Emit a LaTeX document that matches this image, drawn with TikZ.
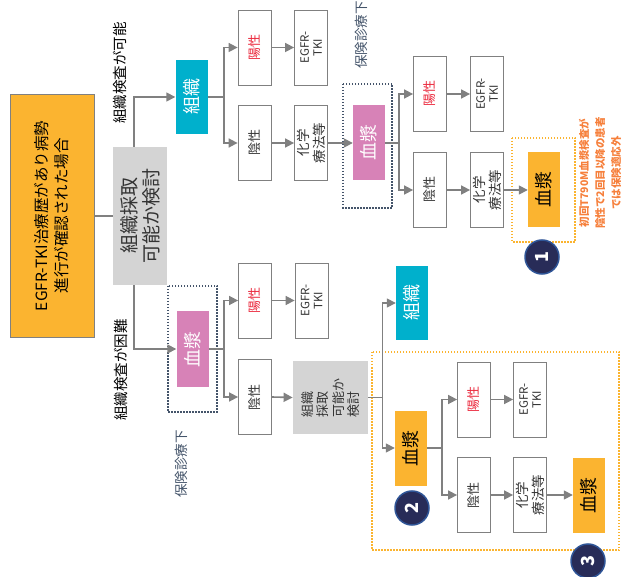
\documentclass[tikz,border=0pt]{standalone}
\usepackage{fontspec}
\setmainfont{Noto Sans CJK JP}
\usetikzlibrary{arrows.meta}

\definecolor{tkiorange}{RGB}{251,180,48}
\definecolor{tisscyan}{RGB}{0,176,204}
\definecolor{plasmapink}{RGB}{215,130,183}
\definecolor{linegray}{RGB}{128,128,128}
\definecolor{fillgray}{RGB}{212,212,212}
\definecolor{posred}{RGB}{235,40,60}
\definecolor{framenavy}{RGB}{68,84,106}
\definecolor{noteorange}{RGB}{246,128,60}
\definecolor{circnavy}{RGB}{40,44,88}
\definecolor{circblue}{RGB}{47,85,151}

\tikzset{
  arr/.style={draw=linegray, line width=1.6pt, -{Triangle[length=9pt,width=9pt]}},
  conn/.style={draw=linegray, line width=1.6pt},
  box/.style={rotate=90, draw=linegray, fill=white, line width=0.8pt,
    minimum width=75pt, minimum height=33pt, inner sep=1pt, align=center,
    text=black!80, font=\fontsize{13}{15}\selectfont},
  posbox/.style={box, text=posred},
  egfrbox/.style={box, font=\fontsize{11.5}{13}\selectfont},
  chembox/.style={box, font=\fontsize{13.5}{16}\selectfont},
  tissue/.style={rotate=90, fill=tisscyan, text=white, minimum width=74pt,
    minimum height=32pt, inner sep=1pt, font=\fontsize{18}{20}\selectfont},
  plasma/.style={rotate=90, fill=plasmapink, text=white, minimum width=75pt,
    minimum height=32pt, inner sep=1pt, font=\fontsize{18}{20}\selectfont},
  plasmaor/.style={plasma, fill=tkiorange, text=black},
  navyframe/.style={draw=framenavy, line width=1.5pt, dash pattern=on 1.5pt off 1.5pt},
  orframe/.style={draw=tkiorange, line width=1.5pt, dash pattern=on 1.5pt off 1.5pt},
  num/.style={circle, rotate=90, fill=circnavy, draw=circblue, line width=1.5pt,
    minimum size=34pt, inner sep=0pt, text=white, font=\fontsize{18}{18}\bfseries},
  lbl/.style={rotate=90, inner sep=0pt, font=\fontsize{14.5}{16}\selectfont},
}

\begin{document}
\begin{tikzpicture}[x=1pt,y=-1pt]
  \useasboundingbox (0,0) rectangle (624,577);

  % Dotted frames
  \draw[navyframe] (343,84) rectangle (392,208);
  \draw[navyframe] (168,286) rectangle (217,412);
  \draw[orframe] (512,138) rectangle (575,242);
  \draw[orframe] (372,352) rectangle (619,550);

  % Start and first decision
  \node[rotate=90, draw=linegray, fill=tkiorange, line width=0.8pt, minimum width=243pt,
    minimum height=84pt, align=center, font=\fontsize{15.5}{20}\selectfont]
    (start) at (52,216) {EGFR-TKI治療歴があり病勢\\進行が確認された場合};
  \node[rotate=90, fill=fillgray, minimum width=138pt, minimum height=54pt, align=center,
    text=black!80, font=\fontsize{19}{22}\selectfont]
    (ask) at (140,216) {組織採取\\可能か検討};
  \coordinate (g1) at (134,0);
  \node[lbl] (lblok) at (120,73) {組織検査が可能};
  \node[lbl] (lblng) at (121,370) {組織検査が困難};

  % Upper branch: tissue
  \node[tissue] (tis1) at (191.5,97) {組織};
  \node[posbox] (pos1) at (254.5,47.5) {陽性};
  \node[box] (neg1) at (254.5,143) {陰性};
  \node[egfrbox] (egfr1) at (311,47.5) {EGFR-\\TKI};
  \node[chembox] (chem1) at (311,143) {化学\\療法等};

  \node[plasma] (pl1) at (369,143) {血漿};
  \node[lbl, text=framenavy, font=\fontsize{13.5}{15}\selectfont] (ins1) at (361,35) {保険診療下};
  \node[posbox] (pos2) at (430,94) {陽性};
  \node[box] (neg2) at (430,190) {陰性};
  \node[egfrbox] (egfr2) at (487,94) {EGFR-\\TKI};
  \node[chembox] (chem2) at (487,190) {化学\\療法等};
  \node[plasmaor] (or1) at (544,190) {血漿};
  \node[num] (n1) at (542,257) {1};
  \node[rotate=90, align=center, text=noteorange, inner sep=0pt,
    font=\fontsize{10.5}{16}\bfseries] (note) at (600,173)
    {初回T790M血漿検査が\\陰性で2回目以降の患者\\では保険適応外};

  % Lower branch: plasma
  \node[plasma] (pl2) at (192.5,349) {血漿};
  \node[lbl, text=framenavy, font=\fontsize{13.5}{15}\selectfont] (ins2) at (181,464) {保険診療下};
  \node[posbox] (pos3) at (255,300.5) {陽性};
  \node[box] (neg3) at (255,397) {陰性};
  \node[egfrbox] (egfr3) at (311.5,300.5) {EGFR-\\TKI};
  \node[box, fill=fillgray, draw=none, minimum width=73pt, minimum height=75pt,
    align=left, font=\fontsize{13}{15.5}\selectfont]
    (ask2) at (330.5,397.5) {組織\\採取\\可能か\\検討};

  \node[tissue] (tis2) at (412,303) {組織};
  \node[plasmaor] (or2) at (411,448) {血漿};
  \node[posbox] (pos4) at (474,399.5) {陽性};
  \node[box] (neg4) at (474,495) {陰性};
  \node[egfrbox] (egfr4) at (530,399.5) {EGFR-\\TKI};
  \node[chembox] (chem4) at (530,495) {化学\\療法等};
  \node[plasmaor] (or3) at (589,495) {血漿};
  \node[num] (n2) at (412,508) {2};
  \node[num] (n3) at (588,561) {3};

  % Connectors
  \draw[conn] (start.south) -- (ask.north);
  \draw[arr] (ask.east -| g1) |- (tis1.north);
  \draw[arr] (ask.west -| g1) |- (pl2.north);

  \draw[conn] (tis1.south) -- ++(16,0) coordinate (s1);
  \draw[arr] (s1) |- (pos1.north);
  \draw[arr] (s1) |- (neg1.north);
  \draw[arr] (pos1.south) -- (egfr1.north);
  \draw[arr] (neg1.south) -- (chem1.north);
  \draw[arr] (chem1.south) -- (pl1.north);

  \draw[conn] (pl1.south) -- ++(14,0) coordinate (s2);
  \draw[arr] (s2) |- (pos2.north);
  \draw[arr] (s2) |- (neg2.north);
  \draw[arr] (pos2.south) -- (egfr2.north);
  \draw[arr] (neg2.south) -- (chem2.north);
  \draw[arr] (chem2.south) -- (or1.north);

  \draw[conn] (pl2.south) -- ++(15,0) coordinate (s3);
  \draw[arr] (s3) |- (pos3.north);
  \draw[arr] (s3) |- (neg3.north);
  \draw[arr] (pos3.south) -- (egfr3.north);
  \draw[arr] (neg3.south) -- (ask2.north);

  \draw[conn] (ask2.south) -- ++(14,0) coordinate (s4);
  \draw[arr] (s4) |- (tis2.north);
  \draw[arr] (s4) |- (or2.north);

  \draw[conn] (or2.south) -- ++(15,0) coordinate (s5);
  \draw[arr] (s5) |- (pos4.north);
  \draw[arr] (s5) |- (neg4.north);
  \draw[arr] (pos4.south) -- (egfr4.north);
  \draw[arr] (neg4.south) -- (chem4.north);
  \draw[arr] (chem4.south) -- (or3.north);
\end{tikzpicture}
\end{document}
